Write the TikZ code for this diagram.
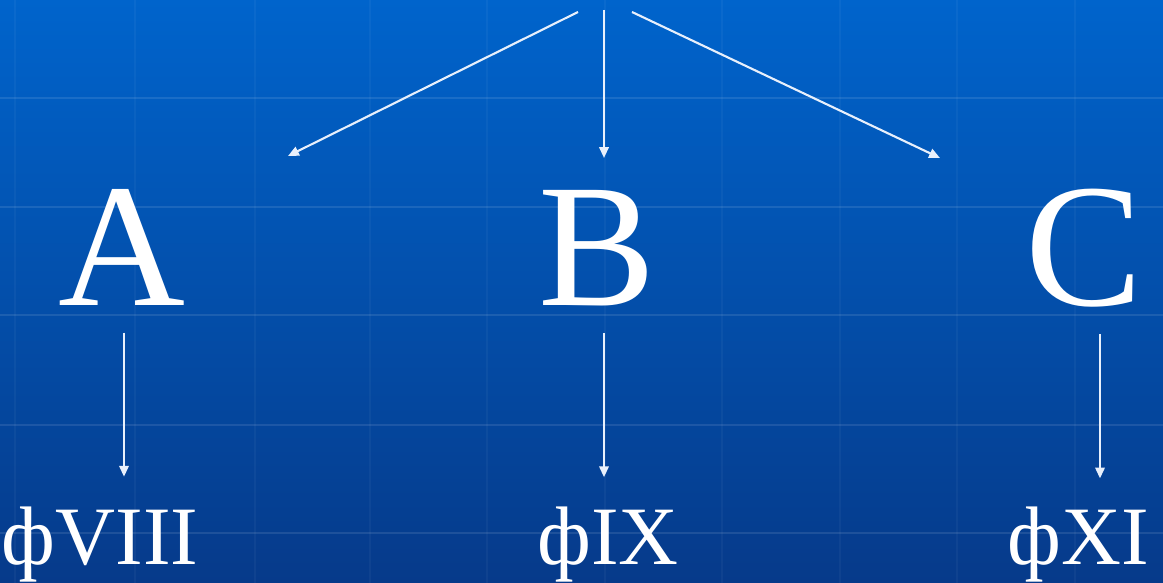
\documentclass[tikz,border=0pt]{standalone}
\usepackage{fontspec}
\setmainfont{Liberation Serif}
\usetikzlibrary{arrows.meta,positioning,calc}
\definecolor{bgtop}{RGB}{0,100,204}
\definecolor{bgbottom}{RGB}{6,58,138}
\definecolor{arrowcol}{RGB}{232,240,252}

\begin{document}
\begin{tikzpicture}[x=0.01cm, y=-0.01cm, >={Triangle[length=3.1pt,width=2.7pt]},
    link/.style={->, arrowcol, line width=0.6pt},
    big/.style={white, inner sep=0pt, anchor=base, font=\fontsize{50}{50}\selectfont},
    factor/.style={white, inner sep=0pt, anchor=base, font=\fontsize{23.6}{24}\selectfont}]
    % --- background: blue gradient, faint grid ---
    \shade[top color=bgtop, bottom color=bgbottom] (0,0) rectangle (1163,583);
    \useasboundingbox (0,0) rectangle (1163,583);
    \foreach \y in {98,207,315,425,533}
      \draw[white, opacity=0.10, line width=0.6pt] (0,\y) -- (1163,\y);
    \foreach \x in {15,135,255,370,487,605,722,840,957,1075}
      \draw[white, opacity=0.04, line width=0.6pt] (\x,0) -- (\x,583);
    % --- groups ---
    \node[big] (A) at (122,306) {A};
    \node[big] (B) at (597,306) {B};
    \node[big] (C) at (1084,306) {C};
    % --- factors ---
    \node[factor] (fA) at (100,565) {фVIII};
    \node[factor] (fB) at (608,565) {фIX};
    \node[factor] (fC) at (1078,565) {фXI};
    % --- split from the top ---
    \coordinate (srcA) at (578,12);
    \coordinate (srcB) at (604,10);
    \coordinate (srcC) at (632,12);
    \coordinate (toA) at (288,156);
    \coordinate (toB) at (604,158);
    \coordinate (toC) at (940,158);
    \draw[link] (srcA) -- (toA);
    \draw[link] (srcB) -- (toB);
    \draw[link] (srcC) -- (toC);
    % --- group -> factor ---
    \draw[link] ($(A.south)+(2,26)$) -- ($(A.south)+(2,170)$);
    \draw[link] ($(B.south)+(7,26)$) -- ($(B.south)+(7,170)$);
    \draw[link] ($(C.south)+(16,26)$) -- ($(C.south)+(16,170)$);
\end{tikzpicture}
\end{document}
